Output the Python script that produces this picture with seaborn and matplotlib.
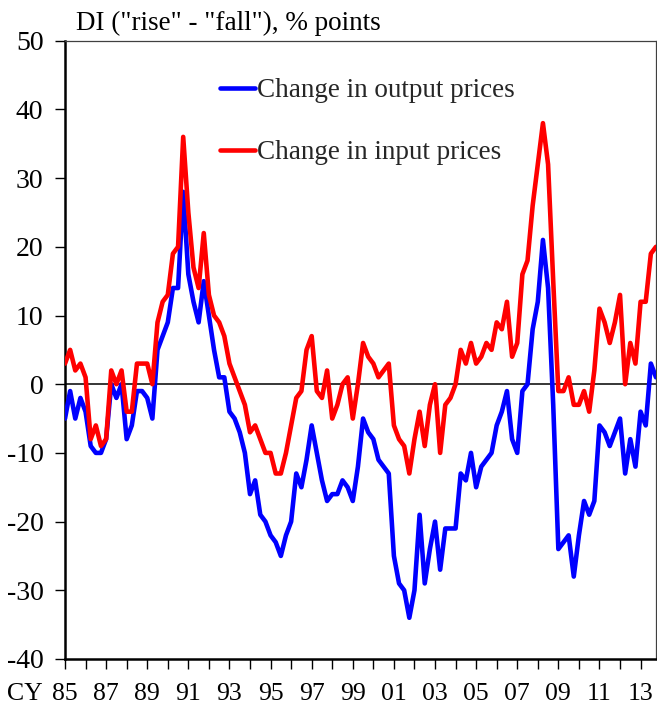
import numpy as np
import pandas as pd
import matplotlib
matplotlib.use("Agg")
import matplotlib.pyplot as plt
import seaborn as sns

# Quarterly data, 1985 Q1 .. 2013 Q4
start_year = 1985
n_quarters = 116

output_prices = [
    -5, -1, -5, -2, -4, -9, -10, -10, -8, 0, -2, 0, -8, -6, -1, -1, -2, -5, 5, 7, 9, 14, 14, 28,
    16, 12, 9, 15, 10, 5, 1, 1, -4, -5, -7, -10,
    -16, -14, -19, -20, -22, -23, -25, -22, -20, -13, -15, -11,
    -6, -10, -14, -17, -16, -16, -14, -15, -17, -12, -5, -7,
    -8, -11, -12, -13, -25, -29, -30, -34, -30, -19, -29, -24,
    -20, -27, -21, -21, -21, -13, -14, -10, -15, -12, -11, -10,
    -6, -4, -1, -8, -10, -1, 0, 8, 12, 21, 14, -3,
    -24, -23, -22, -28, -22, -17, -19, -17, -6, -7, -9, -7,
    -5, -13, -8, -12, -4, -6, 3, 1,
]

input_prices = [
    3, 5, 2, 3, 1, -8, -6, -9, -8, 2, 0, 2, -4, -4, 3, 3, 3, 0, 9, 12, 13, 19, 20, 36,
    25, 17, 14, 22, 13, 10, 9, 7, 3, 1, -1, -3,
    -7, -6, -8, -10, -10, -13, -13, -10, -6, -2, -1, 5,
    7, -1, -2, 2, -5, -3, 0, 1, -5, 0, 6, 4,
    3, 1, 2, 3, -6, -8, -9, -13, -8, -4, -9, -3,
    0, -10, -3, -2, 0, 5, 3, 6, 3, 4, 6, 5,
    9, 8, 12, 4, 6, 16, 18, 26, 32, 38, 32, 15,
    -1, -1, 1, -3, -3, -1, -4, 2, 11, 9, 6, 9,
    13, 0, 6, 3, 12, 12, 19, 20,
]

series_names = ["Change in output prices", "Change in input prices"]
series_colors = ["#0000FF", "#FF0000"]
tick_years = list(range(1985, 2014))
tick_labels = [f"{y % 100:02d}" if (y - 1985) % 2 == 0 else "" for y in tick_years]
y_ticks = list(range(-40, 51, 10))
title_text = 'DI ("rise" - "fall"), % points'

time = start_year + np.arange(n_quarters) / 4.0
df = pd.DataFrame({
    "time": np.concatenate([time, time]),
    "DI": np.array(output_prices + input_prices, dtype=float),
    "series": [series_names[0]] * n_quarters + [series_names[1]] * n_quarters,
})

sns.set_theme(style="white")
plt.rcParams["font.family"] = ["Liberation Serif", "DejaVu Serif"]
plt.rcParams["axes.unicode_minus"] = False

fig = plt.figure(figsize=(6.57, 7.06), dpi=100)
ax = fig.add_axes([65 / 657, 1 - 659 / 706, 591 / 657, 618.3 / 706])

ax.axhline(0, color="black", lw=1.1, zorder=1)
sns.lineplot(data=df, x="time", y="DI", hue="series", hue_order=series_names,
             palette=dict(zip(series_names, series_colors)), linewidth=3.3,
             ax=ax, legend=False, zorder=3)

ax.set_xlim(time[0], time[-1])
ax.set_ylim(-40, 50)
ax.set_xticks(tick_years)
ax.set_xticklabels(tick_labels)
ax.set_yticks(y_ticks)
ax.set_yticklabels([str(v) for v in y_ticks])
ax.set_xlabel("")
ax.set_ylabel("")

ax.tick_params(axis="both", which="both", direction="out", length=7, width=1,
               color="black", labelcolor="black")
ax.tick_params(axis="x", pad=10, bottom=True, labelsize=18.5)
ax.tick_params(axis="y", pad=8.5, left=True, labelsize=20)

for side in ["left", "bottom"]:
    ax.spines[side].set_color("black")
    ax.spines[side].set_linewidth(1.8)
for side in ["top", "right"]:
    ax.spines[side].set_color("#404040")
    ax.spines[side].set_linewidth(0.9)

# "CY" prefix to the first tick label
ax.annotate("CY", xy=(time[0], 0), xycoords=("data", "axes fraction"),
            xytext=(-16, -17), textcoords="offset points",
            ha="right", va="top", fontsize=18.5, color="black",
            annotation_clip=False)

ax.text(11 / 591, 1 + 10.5 / 618.3, title_text, transform=ax.transAxes,
        ha="left", va="baseline", fontsize=19.5, color="black")

handles = [plt.Line2D([], [], color=c, lw=3.3) for c in series_colors]
leg = ax.legend(handles, series_names, loc="upper left",
                bbox_to_anchor=((220 - 65) / 591, 1 - (78 - 40.7) / 618.3),
                frameon=False, fontsize=19.5, handlelength=1.3, handletextpad=0.05,
                labelspacing=1.38, borderpad=0, borderaxespad=0)

fig.savefig("out.png", dpi=100, facecolor="white")
